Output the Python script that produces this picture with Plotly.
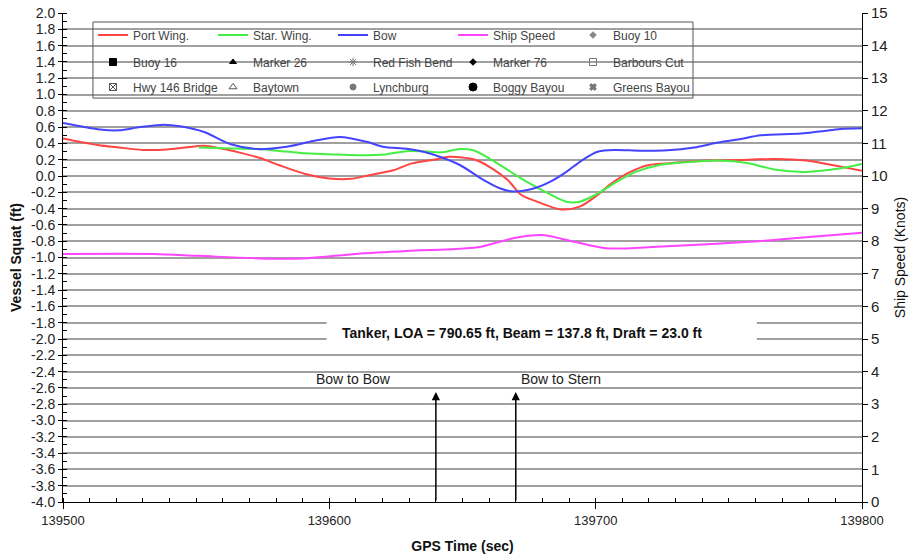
import plotly.graph_objects as go

# ---------------- data ----------------
PORT_T = [139500, 139513, 139521, 139530, 139539, 139546, 139553, 139559, 139566, 139574, 139581,
          139591, 139600, 139608, 139615, 139624, 139631, 139639, 139645, 139649, 139655, 139661,
          139667, 139672, 139678, 139687, 139694, 139700, 139706, 139713, 139720, 139729, 139742,
          139754, 139767, 139779, 139792, 139800]
PORT_V = [0.46, 0.38, 0.35, 0.32, 0.325, 0.35, 0.37, 0.34, 0.29, 0.22, 0.135,
          0.025, -0.03, -0.035, 0.01, 0.07, 0.155, 0.20, 0.235, 0.23, 0.196, 0.094,
          -0.05, -0.23, -0.315, -0.41, -0.376, -0.25, -0.09, 0.05, 0.135, 0.16, 0.19,
          0.196, 0.21, 0.19, 0.115, 0.065]

STAR_T = [139551, 139561, 139573, 139584, 139591, 139601, 139611, 139621, 139629, 139637, 139642,
          139649, 139654, 139660, 139667, 139674, 139682, 139689, 139694, 139700, 139708, 139715,
          139724, 139734, 139746, 139757, 139767, 139779, 139792, 139800]
STAR_V = [0.35, 0.34, 0.33, 0.30, 0.28, 0.265, 0.255, 0.265, 0.305, 0.30, 0.29,
          0.33, 0.315, 0.217, 0.074, -0.07, -0.21, -0.315, -0.315, -0.23, -0.07, 0.05,
          0.135, 0.17, 0.19, 0.16, 0.08, 0.05, 0.094, 0.147]

BOW_T = [139500, 139514, 139521, 139529, 139538, 139544, 139553, 139563, 139573, 139584, 139594,
         139604, 139614, 139620, 139629, 139635, 139642, 139649, 139658, 139664, 139669, 139677,
         139683, 139689, 139695, 139701, 139707, 139717, 139727, 139737, 139746, 139754, 139762,
         139777, 139785, 139792, 139800]
BOW_V = [0.65, 0.57, 0.56, 0.60, 0.63, 0.61, 0.54, 0.39, 0.33, 0.36, 0.43,
         0.48, 0.42, 0.36, 0.335, 0.30, 0.23, 0.135, -0.05, -0.15, -0.19, -0.15,
         -0.07, 0.05, 0.196, 0.30, 0.32, 0.31, 0.315, 0.35, 0.41, 0.45, 0.50,
         0.52, 0.55, 0.577, 0.585]

SPEED_T = [139500, 139534, 139551, 139579, 139592, 139610, 139629, 139649, 139657, 139669, 139680,
           139692, 139704, 139723, 139742, 139761, 139779, 139800]
SPEED_V = [7.61, 7.61, 7.55, 7.46, 7.48, 7.61, 7.70, 7.77, 7.83, 8.09, 8.19,
           7.98, 7.78, 7.83, 7.91, 8.00, 8.12, 8.26]

LINE_NAMES = ["Port Wing.", "Star. Wing.", "Bow", "Ship Speed"]
LINE_COLORS = ["#ff4444", "#44ee44", "#4444ff", "#ff44ff"]

MARKER_NAMES = ["Buoy 10", "Buoy 16", "Marker 26", "Red Fish Bend", "Marker 76", "Barbours Cut",
                "Hwy 146 Bridge", "Baytown", "Lynchburg", "Boggy Bayou", "Greens Bayou"]
MARKER_SYMBOLS = ["diamond", "square", "triangle-up", "asterisk-open", "diamond", "square-open",
                  "square-x-open", "triangle-up-open", "circle-x", "circle", "x"]
MARKER_COLORS = ["#888888", "#000000", "#000000", "#777777", "#000000", "#777777",
                 "#555555", "#555555", "#777777", "#000000", "#777777"]
MARKER_SIZES = [5, 7, 6, 7, 5, 7, 7, 7, 6, 8, 6]

EVENT_T = [139640, 139670]
EVENT_LABELS = ["Bow to Bow", "Bow to Stern"]
EVENT_LABEL_T = [139609, 139687]

X_TICKS = [139500, 139600, 139700, 139800]
X_TICKTEXT = ["139500", "139600", "139700", "139800"]
Y_TICKS = [round(-4.0 + 0.2 * i, 1) for i in range(31)]
Y_TICKTEXT = [f"{v:.1f}" for v in Y_TICKS]
Y2_TICKS = list(range(0, 16))

TITLE_TEXT = "Tanker, LOA = 790.65 ft, Beam = 137.8 ft, Draft = 23.0 ft"

FONT = "Liberation Sans, Arial, sans-serif"

fig = go.Figure()

series = [(PORT_T, PORT_V, "y"), (STAR_T, STAR_V, "y"), (BOW_T, BOW_V, "y"), (SPEED_T, SPEED_V, "y2")]
for (t, v, ax), name, col in zip(series, LINE_NAMES, LINE_COLORS):
    fig.add_trace(go.Scatter(x=t, y=v, yaxis=ax, mode="lines", name=name,
                             line=dict(color=col, width=2, shape="spline", smoothing=0.8),
                             legend="legend"))

legend_ids = ["legend"] + ["legend2"] * 5 + ["legend3"] * 5
for name, sym, col, sz, lg in zip(MARKER_NAMES, MARKER_SYMBOLS, MARKER_COLORS, MARKER_SIZES, legend_ids):
    fig.add_trace(go.Scatter(x=[None], y=[None], mode="markers", name=name,
                             marker=dict(symbol=sym, color=col, size=sz,
                                         line=dict(color=col, width=1)),
                             legend=lg))

# arrows
for t in EVENT_T:
    fig.add_annotation(x=t, y=-2.65, ax=t, ay=-4.0, xref="x", yref="y", axref="x", ayref="y",
                       showarrow=True, arrowhead=2, arrowsize=1.1, arrowwidth=1.5,
                       arrowcolor="black", text="")
for t, lab in zip(EVENT_LABEL_T, EVENT_LABELS):
    fig.add_annotation(x=t, y=-2.49, xref="x", yref="y", text=lab, showarrow=False,
                       font=dict(family=FONT, size=14, color="#222"))

# white box behind title text
fig.add_shape(type="rect", xref="x", yref="y", x0=139599, x1=139760.5, y0=-2.05, y1=-1.77,
              fillcolor="white", line=dict(width=0), layer="above")
fig.add_annotation(x=139672.4, y=-1.93, xref="x", yref="y", text=f"<b>{TITLE_TEXT}</b>",
                   showarrow=False, font=dict(family=FONT, size=14, color="#111"))

# legend border
fig.add_shape(type="rect", xref="paper", yref="paper", x0=0.0375, x1=0.7885, y0=0.826, y1=0.9816,
              line=dict(color="#555555", width=1), fillcolor="rgba(0,0,0,0)", layer="above")

leg_common = dict(orientation="h", xanchor="left", yanchor="middle", bgcolor="rgba(0,0,0,0)",
                  borderwidth=0, entrywidth=75, entrywidthmode="pixels", tracegroupgap=0,
                  font=dict(family=FONT, size=12, color="#444"), itemwidth=30)
x_leg = (93 - 63) / 799

fig.update_layout(
    width=923, height=557,
    margin=dict(l=63, r=61, t=13, b=55, autoexpand=False),
    paper_bgcolor="white", plot_bgcolor="white",
    showlegend=True,
    legend=dict(x=x_leg, y=(502 - 35) / 489, **leg_common),
    legend2=dict(x=x_leg, y=(502 - 62) / 489, **leg_common),
    legend3=dict(x=x_leg, y=(502 - 87) / 489, **leg_common),
    xaxis=dict(range=[139500, 139800], tickvals=X_TICKS, ticktext=X_TICKTEXT, ticks="outside", ticklen=6,
               tickcolor="black", showline=True, linecolor="black", linewidth=1,
               showgrid=False, zeroline=False, automargin=False,
               minor=dict(dtick=10, ticks="inside", ticklen=4, tickcolor="black", showgrid=False),
               tickfont=dict(family=FONT, size=13, color="#222"),
               title=dict(text="<b>GPS Time (sec)</b>", font=dict(family=FONT, size=14, color="#111"),
                          standoff=14)),
    yaxis=dict(range=[-4.0, 2.0], tickvals=Y_TICKS, ticktext=Y_TICKTEXT, ticks="outside", ticklen=4,
               tickcolor="black", showline=True, linecolor="black", linewidth=1,
               showgrid=True, gridcolor="#a0a0a0", gridwidth=1.5, zeroline=False, automargin=False,
               minor=dict(dtick=0.1, tick0=0, ticks="inside", ticklen=4, tickcolor="black", showgrid=False),
               tickfont=dict(family=FONT, size=14, color="#222"),
               title=dict(text="<b>Vessel Squat (ft)</b>", font=dict(family=FONT, size=14, color="#111"),
                          standoff=6)),
    yaxis2=dict(range=[0, 15], overlaying="y", side="right", tickvals=Y2_TICKS, ticks="outside",
                ticklen=5, tickcolor="black", showline=True, linecolor="black", linewidth=1,
                showgrid=False, zeroline=False, automargin=False,
                tickfont=dict(family=FONT, size=15, color="#222"),
                title=dict(text="Ship Speed (Knots)", font=dict(family=FONT, size=14, color="#111"),
                           standoff=8)),
)

fig.write_html("out.html", config={"displayModeBar": False},
               post_script="document.body.style.margin='0';document.body.style.overflow='hidden';")
